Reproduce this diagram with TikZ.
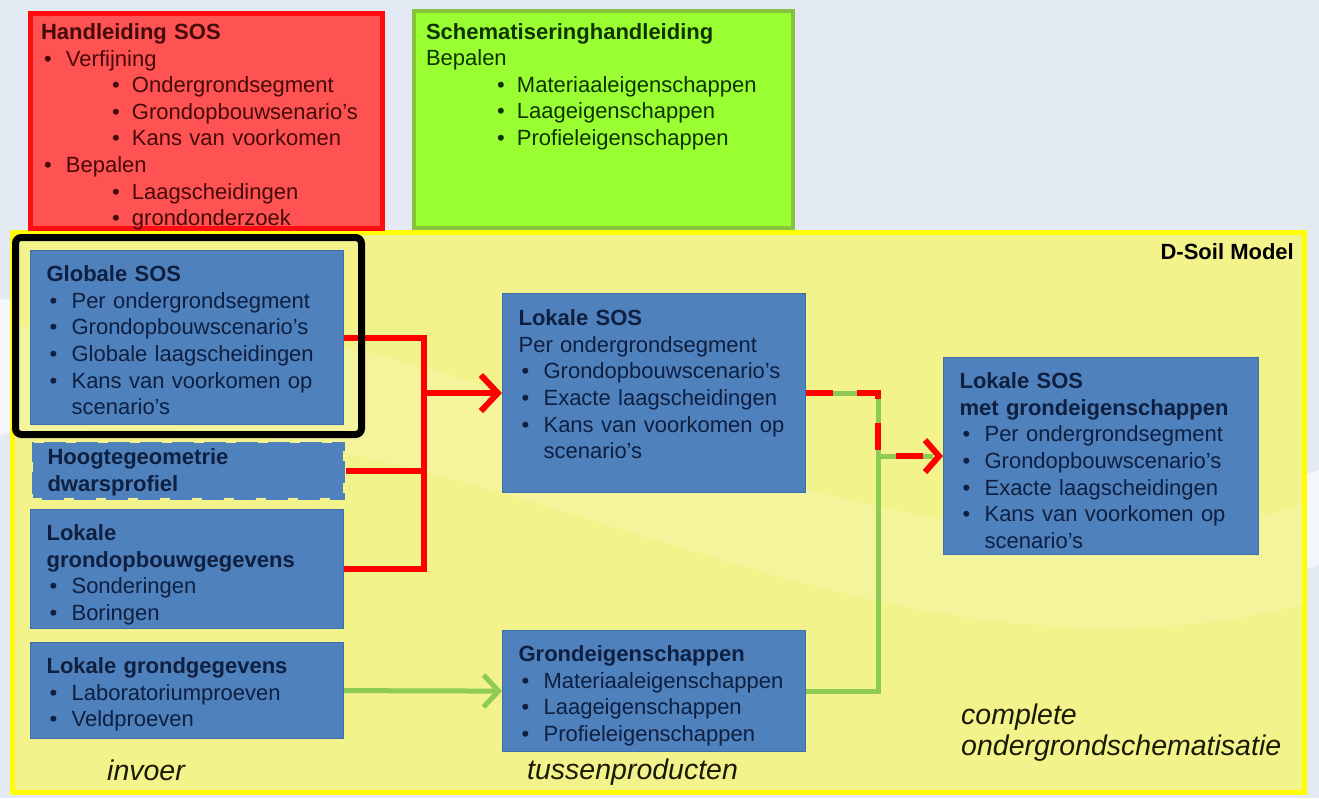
\documentclass[tikz,border=0pt]{standalone}
\usepackage{fontspec}
\setmainfont{Liberation Sans}
\usetikzlibrary{arrows.meta,positioning}
\definecolor{pagebg}{HTML}{E3EAF3}
\definecolor{modelfill}{HTML}{F3F38C}
\definecolor{modeldraw}{HTML}{FFFF00}
\definecolor{redfill}{HTML}{FF5252}
\definecolor{reddraw}{HTML}{FF0D0D}
\definecolor{redtext}{HTML}{450A0A}
\definecolor{greenfill}{HTML}{99FF33}
\definecolor{greendraw}{HTML}{86C440}
\definecolor{greentext}{HTML}{0F3300}
\definecolor{bluefill}{HTML}{4F81BD}
\definecolor{bluedraw}{HTML}{3F6FAA}
\definecolor{navy}{HTML}{0E1F40}
\definecolor{flowred}{HTML}{FF0000}
\definecolor{flowgreen}{HTML}{8DCB55}
\definecolor{tagtext}{HTML}{1A1A05}
\newcommand{\boxfont}{\fontsize{22}{26.6}\selectfont}
\newcommand{\tagfont}{\fontsize{28.5}{31}\selectfont\itshape}
\newcommand{\itm}[1]{\hspace*{3pt}\makebox[22pt][l]{\textbullet}#1}
\newcommand{\subitm}[1]{\hspace*{71pt}\makebox[20pt][l]{\textbullet}#1}

\begin{document}
\begin{tikzpicture}[x=1pt,y=-1pt,
  every node/.style={font=\boxfont},
  infobox/.style={anchor=north west, align=left, text height=16pt, inner xsep=16pt},
  pad/.style 2 args={inner ysep=#1, text depth=#2},
  bluebox/.style={infobox, fill=bluefill, draw=bluedraw, line width=1.2pt, text=navy, text width=281pt},
  redflow/.style={draw=flowred, line width=6pt},
  greenflow/.style={draw=flowgreen, line width=5pt},
  phase/.style={font=\tagfont, text=tagtext, inner sep=0pt}]
\useasboundingbox (0,0) rectangle (1319,798);
% background and D-Soil frame
\fill[pagebg] (0,0) rectangle (1319,798);
\fill[white, opacity=0.6] (0,300) .. controls (450,220) and (850,620) .. (1319,470)
  -- (1319,565) .. controls (850,700) and (450,330) .. (0,435) -- cycle;
\draw[modeldraw, fill=modelfill, line width=5pt] (12.5,232.5) rectangle (1304.5,792.5);
\begin{scope}
\clip (15,235) rectangle (1302,790);
\fill[white, opacity=0.15] (0,330) .. controls (450,250) and (850,650) .. (1319,500)
  -- (1319,600) .. controls (850,730) and (450,360) .. (0,440) -- cycle;
\end{scope}

% handleidingen
\node[infobox, pad={10.5pt}{178pt}, fill=redfill, draw=reddraw, line width=5pt, text=redtext,
  inner xsep=11pt, text width=330pt] (hsos) at (27.5,10.5)
  {\textbf{Handleiding SOS}\\ \itm{Verfijning}\\ \subitm{Ondergrondsegment}\\
   \subitm{Grondopbouwsenario's}\\ \subitm{Kans van voorkomen}\\ \itm{Bepalen}\\
   \subitm{Laagscheidingen}\\ \subitm{grondonderzoek}};
\node[infobox, pad={12pt}{177pt}, fill=greenfill, draw=greendraw, line width=4pt, text=greentext,
  inner xsep=12pt, text width=355pt] (schem) at (412,9)
  {\textbf{Schematiseringhandleiding}\\ Bepalen\\ \subitm{Materiaaleigenschappen}\\
   \subitm{Laageigenschappen}\\ \subitm{Profieleigenschappen}};

% invoer
\node[bluebox, pad={15pt}{128pt}] (gsos) at (30,250)
  {\textbf{Globale SOS}\\ \itm{Per ondergrondsegment}\\ \itm{Grondopbouwscenario's}\\
   \itm{Globale laagscheidingen}\\ \itm{Kans van voorkomen op}\\ \hspace*{25pt}scenario's};
\node[bluebox, pad={7pt}{28pt}, draw=modelfill, line width=3pt, dash pattern=on 10pt off 22pt] (hoogte) at (30,440)
  {\textbf{Hoogtegeometrie}\\ \textbf{dwarsprofiel}};
\node[bluebox, pad={15pt}{73pt}] (lgop) at (30,509)
  {\textbf{Lokale}\\ \textbf{grondopbouwgegevens}\\ \itm{Sonderingen}\\ \itm{Boringen}};
\node[bluebox, pad={15pt}{50pt}] (lgg) at (30,642)
  {\textbf{Lokale grondgegevens}\\ \itm{Laboratoriumproeven}\\ \itm{Veldproeven}};

% tussenproducten
\node[bluebox, pad={16pt}{151pt}, text width=271pt] (lsos) at (502,293)
  {\textbf{Lokale SOS}\\ Per ondergrondsegment\\ \itm{Grondopbouwscenario's}\\
   \itm{Exacte laagscheidingen}\\ \itm{Kans van voorkomen op}\\ \hspace*{25pt}scenario's};
\node[bluebox, pad={15pt}{75pt}, text width=271pt] (geig) at (502,630)
  {\textbf{Grondeigenschappen}\\ \itm{Materiaaleigenschappen}\\ \itm{Laageigenschappen}\\
   \itm{Profieleigenschappen}};

% complete ondergrondschematisatie
\node[bluebox, pad={15pt}{151pt}, text width=283pt] (lsosg) at (943,357)
  {\textbf{Lokale SOS}\\ \textbf{met grondeigenschappen}\\ \itm{Per ondergrondsegment}\\
   \itm{Grondopbouwscenario's}\\ \itm{Exacte laagscheidingen}\\ \itm{Kans van voorkomen op}\\
   \hspace*{25pt}scenario's};

\node[anchor=east, inner sep=0pt, font=\boxfont\bfseries] (dsoil) at (1294,252) {D-Soil Model};
\node[phase, anchor=base west] (invoer) at (107,780) {invoer};
\node[phase, anchor=base west] (tussen) at (527,779) {tussenproducten};
\node[phase, anchor=north west, align=left] (complete) at (961,704) {complete\\ondergrondschematisatie};

% verbindingen
\path (lsos.west) ++(-78,0) coordinate (rj);
\path (lsos.east) ++(72,0) coordinate (gj);
\draw[redflow] (gsos.east) -| (rj);
\draw[redflow] (lgop.east) -| (rj);
\draw[redflow] (hoogte.east) -- (hoogte.east -| rj);
\draw[redflow, -{Straight Barb[length=17pt,width=36pt,line width=6pt]}] (rj) -- (lsos.west);
\draw[greenflow, -{Straight Barb[length=15pt,width=32pt,line width=5pt]}] (lgg.east) -- (geig.west);
\draw[greenflow] (geig.east) -| (gj) -- (lsos.east);
\draw[greenflow, shorten >=10pt] (gj |- lsosg.west) -- (lsosg.west);
\draw[redflow, dash pattern=on 27pt off 24pt, -{Straight Barb[length=14pt,width=32pt,line width=6pt]}]
  (lsos.east) -| (gj |- lsosg.west) -- (lsosg.west);

\draw[line width=7pt, rounded corners=6pt] (15.5,237.5) rectangle (361.5,434.5);
\end{tikzpicture}
\end{document}
